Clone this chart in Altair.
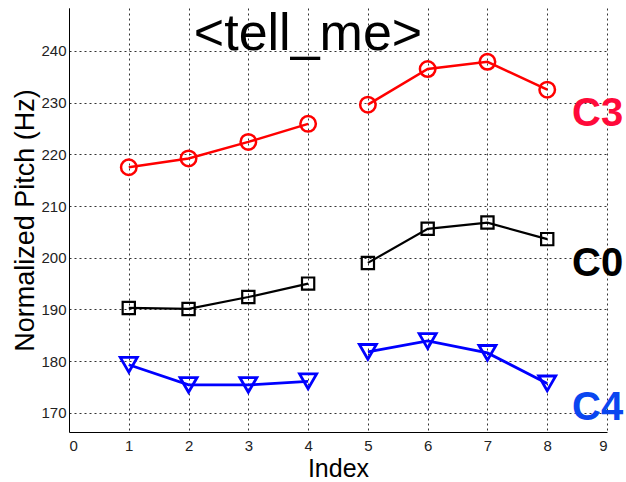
import altair as alt
import pandas as pd

# ---- data ----
index = [1, 2, 3, 4, 5, 6, 7, 8]
c3 = [217.5, 219.2, 222.4, 225.9, 229.6, 236.5, 237.9, 232.5]
c0 = [190.3, 190.1, 192.4, 195.0, 199.0, 205.6, 206.8, 203.6]
c4 = [179.3, 175.4, 175.4, 176.1, 181.8, 183.9, 181.6, 175.7]
segment = ["a", "a", "a", "a", "b", "b", "b", "b"]

series_names = ["C3", "C0", "C4"]
series_values = [c3, c0, c4]
title_text = "<tell_me>"
x_title = "Index"
y_title = "Normalized Pitch (Hz)"
x_ticks = [0, 1, 2, 3, 4, 5, 6, 7, 8, 9]
y_ticks = [170, 180, 190, 200, 210, 220, 230, 240]
x_domain = [0, 9]
y_domain = [166.3, 248.3]

# ---- styles ----
FONT = "Liberation Sans"
line_colors = {"C3": "#ff0000", "C0": "#000000", "C4": "#0000ff"}
label_colors = {"C3": "#ff0a3a", "C0": "#000000", "C4": "#0a46f0"}
shapes = {"C3": "circle", "C0": "square", "C4": "triangle-down"}
sizes = {"C3": 240, "C0": 150, "C4": 290}
widths = {"C3": 2.5, "C0": 2.2, "C4": 2.8}
label_y = {"C3": 118, "C0": 268, "C4": 412}

W, H = 538, 424

x_enc = alt.X(
    "index:Q",
    scale=alt.Scale(domain=x_domain, nice=False, zero=False),
    axis=alt.Axis(
        values=x_ticks, title=x_title, grid=True, ticks=False,
        titleY=44, titleBaseline="alphabetic", titleFontSize=25,
    ),
)
y_enc = alt.Y(
    "value:Q",
    scale=alt.Scale(domain=y_domain, nice=False, zero=False),
    axis=alt.Axis(
        values=y_ticks, title=y_title, grid=True, ticks=False,
        titleX=-36, titleY=H / 2, titleBaseline="alphabetic", titleAngle=270,
    ),
)

layers = []
for name, vals in zip(series_names, series_values):
    df = pd.DataFrame({"index": index, "value": vals, "segment": segment})
    base = alt.Chart(df)
    layers.append(
        base.mark_line(color=line_colors[name], strokeWidth=widths[name]).encode(
            x=x_enc, y=y_enc, detail="segment:N"
        )
    )
    layers.append(
        base.mark_point(
            shape=shapes[name], size=sizes[name], filled=False,
            color=line_colors[name], strokeWidth=widths[name], opacity=1,
        ).encode(x=x_enc, y=y_enc)
    )

for name in series_names:
    layers.append(
        alt.Chart(pd.DataFrame({"label": [name]})).mark_text(
            font=FONT, fontSize=40, fontWeight="bold", align="left",
            baseline="alphabetic", color=label_colors[name],
        ).encode(text="label:N", x=alt.value(503), y=alt.value(label_y[name]))
    )

layers.append(
    alt.Chart(pd.DataFrame({"t": [title_text]})).mark_text(
        font=FONT, fontSize=52, align="center", baseline="alphabetic", color="#000000"
    ).encode(text="t:N", x=alt.value(239), y=alt.value(42))
)

chart = (
    alt.layer(*layers)
    .properties(
        width=W, height=H,
        autosize=alt.AutoSizeParams(type="none"),
        padding={"left": 69, "top": 8, "right": 19, "bottom": 50},
        background="white",
    )
    .configure_view(stroke=None)
    .configure_axis(
        domainColor="#000000", domainWidth=1,
        gridColor="#000000", gridDash=[2, 3], gridWidth=1, gridOpacity=0.8,
        labelFont=FONT, labelFontSize=15, labelColor="#222222",
        titleFont=FONT, titleFontSize=27, titleFontWeight="normal", titleColor="#000000",
    )
    .configure_axisX(labelPadding=6)
    .configure_axisY(labelPadding=3)
)

chart.save("out.html", embed_options={"renderer": "svg", "actions": False})
